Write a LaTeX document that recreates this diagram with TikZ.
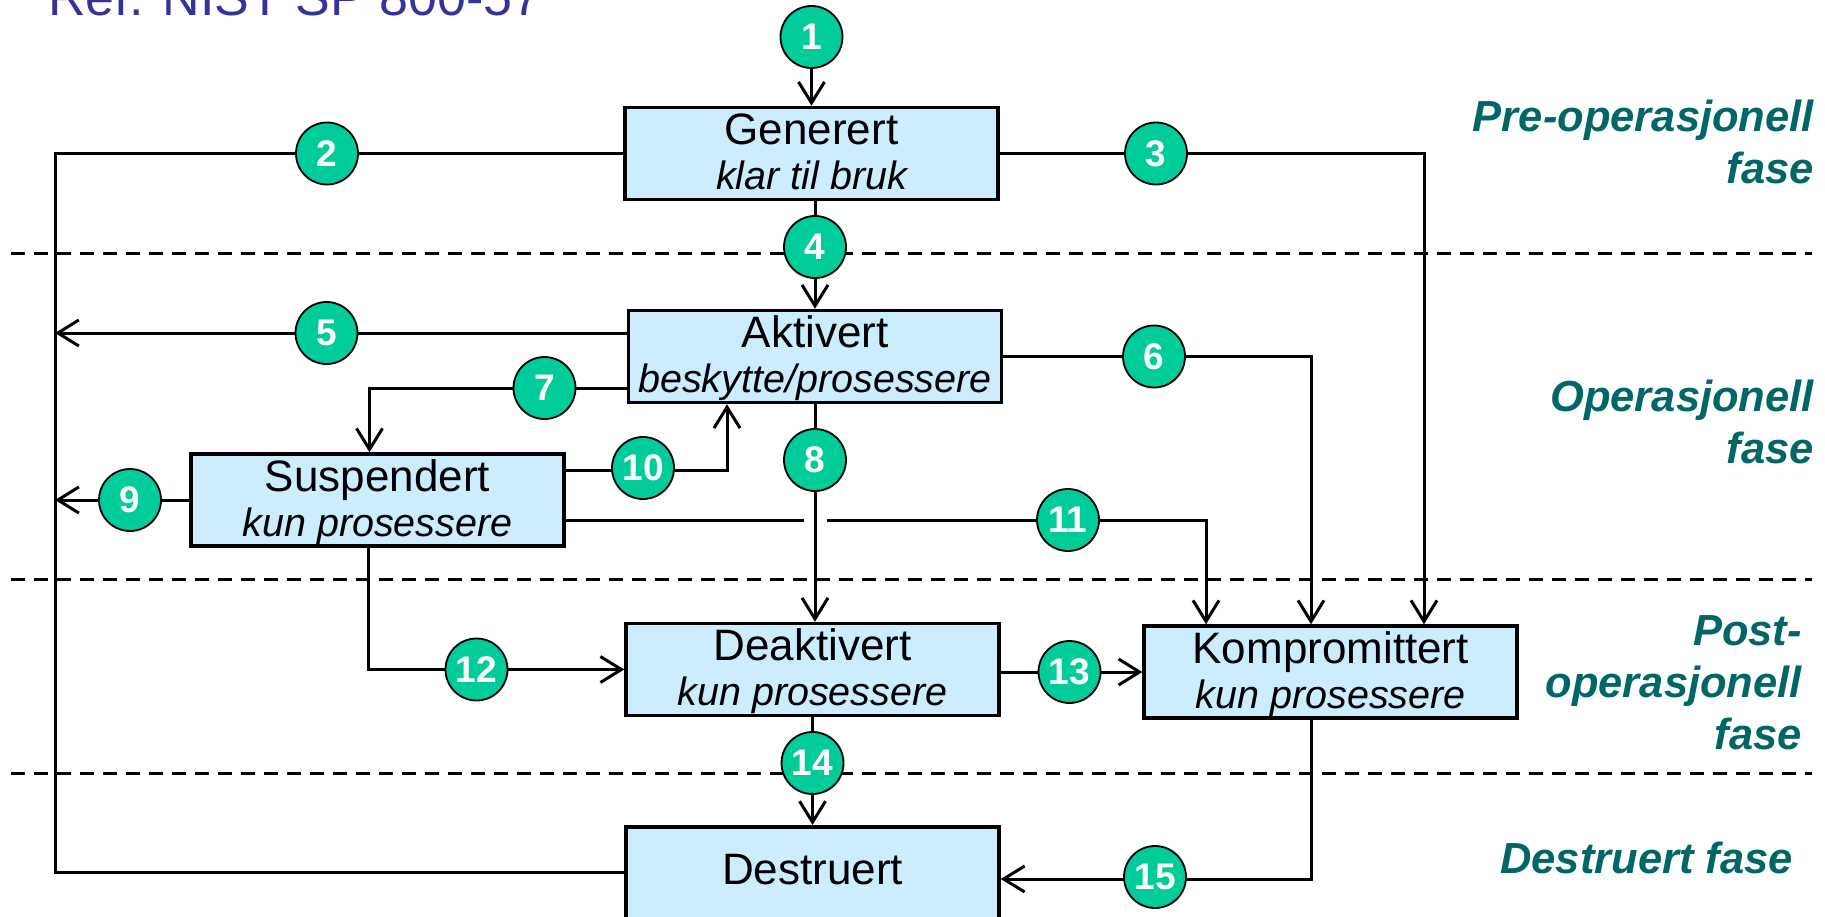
\documentclass[tikz,border=0pt]{standalone}
\usepackage{fontspec}
\setmainfont{Liberation Sans}
\usetikzlibrary{arrows.meta}
\definecolor{boxfill}{HTML}{CCECFF}
\definecolor{numfill}{HTML}{00CC99}
\definecolor{titleblue}{HTML}{333399}
\definecolor{phasegreen}{HTML}{006666}
\newcommand\mainf{\fontsize{44}{45}\selectfont}
\newcommand\subf{\fontsize{39.5}{45}\selectfont\itshape}
\newcommand\topstrut{\rule{0pt}{37pt}}
\newcommand\botstrut{\rule[-10pt]{0pt}{10pt}}
\begin{document}
\begin{tikzpicture}[x=1pt,y=1pt,
  statebox/.style={draw, line width=3.5pt, fill=boxfill, minimum width=373pt, minimum height=91.5pt, inner sep=0pt, align=center, font=\mainf},
  numcirc/.style={circle, draw, line width=1.8pt, fill=numfill, minimum size=62pt, inner sep=0pt, text=white, font=\fontsize{37}{37}\selectfont\bfseries},
  conn/.style={line width=3pt},
  arrowline/.style={conn, -{Straight Barb[length=21pt,width=26pt]}},
  phaselabel/.style={anchor=north east, inner sep=0pt, align=right, text=phasegreen, font=\fontsize{43.5}{52}\selectfont\bfseries\itshape},
  phaseline/.style={line width=3pt, dash pattern=on 14pt off 9pt}
]
\useasboundingbox (0,0) rectangle (1825,-917);

% phase separators
\coordinate (d1a) at (11,-254);  \coordinate (d1b) at (1812,-254);
\coordinate (d2a) at (11,-579);  \coordinate (d2b) at (1812,-579);
\coordinate (d3a) at (11,-773);  \coordinate (d3b) at (1812,-773);
\draw[phaseline] (d1a) -- (d1b);
\draw[phaseline] (d2a) -- (d2b);
\draw[phaseline] (d3a) -- (d3b);

% title
\node[anchor=base west, inner sep=0pt, text=titleblue, font=\fontsize{52}{60}\selectfont] (ref) at (48,-16) {Ref. NIST SP 800-57};

% phase labels
\node[phaselabel] (ph1) at (1814,-98.7) {\rule{0pt}{33pt}Pre-operasjonell\\fase};
\node[phaselabel] (ph2) at (1814,-378.7) {\rule{0pt}{33pt}Operasjonell\\fase};
\node[phaselabel] (ph3) at (1802,-612) {\rule{0pt}{33pt}Post-\\operasjonell\\fase};
\node[phaselabel] (ph4) at (1793,-840.3) {\rule{0pt}{33pt}Destruert fase};

% state boxes
\node[statebox] (gen) at (811.5,-153.5) {\topstrut Generert\\{\subf klar til bruk}\botstrut};
\node[statebox] (akt) at (815,-356.5) {\topstrut Aktivert\\{\subf beskytte/prosessere}\botstrut};
\node[statebox] (sus) at (377.5,-500) {\topstrut Suspendert\\{\subf kun prosessere}\botstrut};
\node[statebox] (dea) at (812.5,-669.5) {\topstrut Deaktivert\\{\subf kun prosessere}\botstrut};
\node[statebox] (komp) at (1330.7,-672) {\topstrut Kompromittert\\{\subf kun prosessere}\botstrut};
\node[statebox] (des) at (812.5,-872.5) {Destruert\rule[-6.5pt]{0pt}{6.5pt}};

% free ends on the left bus
\coordinate (busTop) at (55,-153.5);
\coordinate (busBot) at (55,-872.5);
\coordinate (b5) at (55,-333);
\coordinate (b9) at (55,-500);
\coordinate (top1) at (811.5,-37);

% connectors
\draw[conn] (gen.west) -- (busTop) -- (busBot) -- (des.west);
\draw[arrowline] (top1) -- (gen.north);
\draw[arrowline] (gen.south -| akt.north) -- (akt.north);
\draw[arrowline] (gen.east) -| ([xshift=93.3pt]komp.north);
\draw[arrowline] ([yshift=23.5pt]akt.west) -- (b5);
\draw[arrowline] (akt.east) -| ([xshift=-19.7pt]komp.north);
\draw[arrowline] ([yshift=-31.5pt]akt.west) -| ([xshift=-8pt]sus.north);
\draw[arrowline] (sus.west) -- (b9);
\draw[arrowline] ([yshift=30pt]sus.east) -| ([xshift=-88pt]akt.south);
\coordinate (s11) at ([yshift=-20.5pt]sus.east);
\draw[arrowline] (s11) -| ([xshift=-124.7pt]komp.north);
\coordinate (x11) at (akt.south |- s11);
\draw[white, line width=6pt] ([xshift=-11.5pt]x11) -- ([xshift=11.5pt]x11);
\draw[arrowline] (akt.south) -- (akt.south |- dea.north);
\draw[arrowline] ([xshift=-9pt]sus.south) |- (dea.west);
\draw[arrowline] (dea.east |- komp.west) -- (komp.west);
\draw[arrowline] (dea.south) -- (des.north);
\draw[arrowline] ([xshift=-19pt]komp.south) |- ([yshift=-6.5pt]des.east);

% numbered circles
\node[numcirc] (n1) at (811.5,-37) {1};
\node[numcirc] (n2) at (327,-153.5) {2};
\node[numcirc] (n3) at (1156,-153.5) {3};
\node[numcirc] (n4) at (815,-247) {4};
\node[numcirc] (n5) at (326.5,-333) {5};
\node[numcirc] (n6) at (1154,-356.5) {6};
\node[numcirc] (n7) at (544.5,-388) {7};
\node[numcirc] (n8) at (815,-460) {8};
\node[numcirc] (n9) at (130,-500) {9};
\node[numcirc] (n10) at (643,-468) {10};
\node[numcirc] (n11) at (1068,-520) {11};
\node[numcirc] (n12) at (476.5,-669.5) {12};
\node[numcirc] (n13) at (1069.5,-672) {13};
\node[numcirc] (n14) at (812.5,-763) {14};
\node[numcirc] (n15) at (1155,-877) {15};
\end{tikzpicture}
\end{document}
